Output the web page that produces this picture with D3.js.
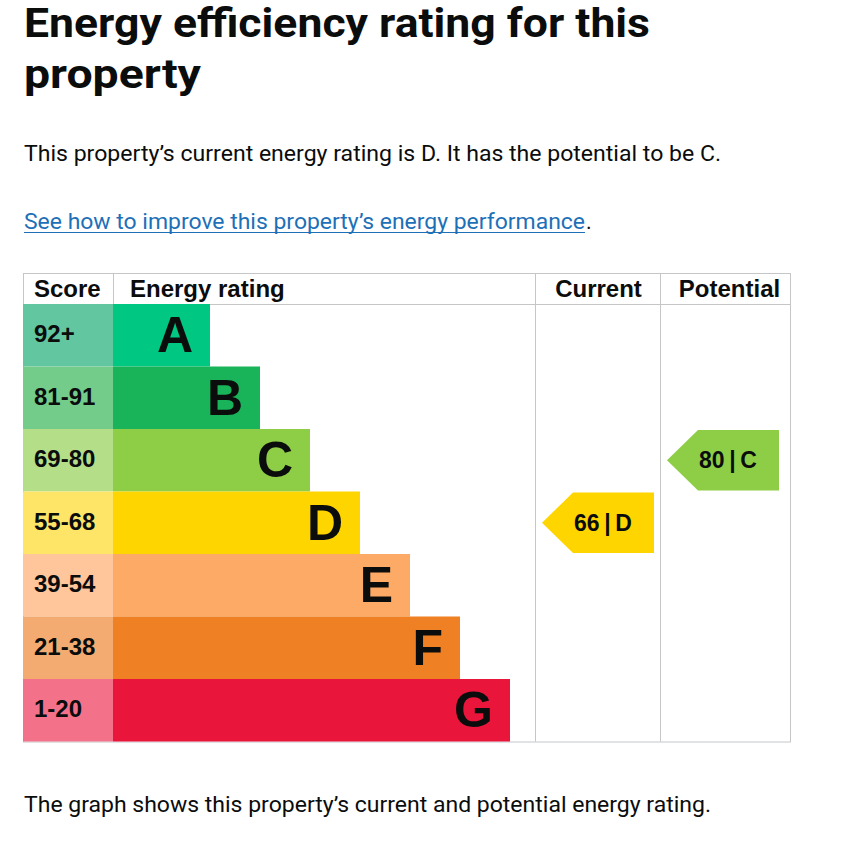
<!DOCTYPE html>
<html>
<head>
<meta charset="utf-8">
<script src="https://cdn.jsdelivr.net/npm/d3@7"></script>
<style>
  html, body { margin: 0; padding: 0; background: #fff; }
  svg { display: block; }
</style>
</head>
<body>
<svg id="chart" width="847" height="848"></svg>
<script>
// ---------- data ----------
const bands = ["A", "B", "C", "D", "E", "F", "G"];
const scoreRanges = ["92+", "81-91", "69-80", "55-68", "39-54", "21-38", "1-20"];
const bandColors = ["#00c781", "#19b459", "#8dce46", "#ffd500", "#fcaa65", "#ef8023", "#e9153b"];
const scoreColors = ["#62c6a0", "#74cc8b", "#b5de89", "#ffe567", "#fec69a", "#f4ab72", "#f3728a"];
const columns = ["Score", "Energy rating", "Current", "Potential"];
const ratings = [
  { column: "Current", score: 66, band: "D" },
  { column: "Potential", score: 80, band: "C" }
];
const titleLines = ["Energy efficiency rating for this", "property"];
const summaryText = "This property\u2019s current energy rating is D. It has the potential to be C.";
const linkText = "See how to improve this property\u2019s energy performance";
const footerText = "The graph shows this property\u2019s current and potential energy rating.";

// ---------- layout ----------
const svg = d3.select("#chart");
const bodyFont = "Roboto, 'Noto Sans', sans-serif";
const tableFont = "'Liberation Sans', Arial, sans-serif";

const tableLeft = 23, tableRight = 791, tableTop = 273, headerBottom = 304, tableBottom = 741.5;
const colEdges = [23, 113, 535, 660, 791];

const y = d3.scaleBand().domain(bands).range([headerBottom, tableBottom]).paddingInner(0);
// bar end position by band rank
const barEnd = d3.scaleLinear().domain([0, bands.length - 1]).range([210, 510]);
const colX = d3.scaleOrdinal().domain(columns).range(colEdges.slice(0, 4));
const colW = d3.scaleOrdinal().domain(columns).range(colEdges.slice(1).map((e, i) => e - colEdges[i]));

// ---------- heading texts ----------
const titleWidths = [626, 177];
svg.selectAll("text.title").data(titleLines).join("text")
  .attr("class", "title")
  .attr("x", 24).attr("y", (d, i) => 37 + i * 51)
  .attr("font-family", bodyFont).attr("font-weight", 700).attr("font-size", 41)
  .attr("fill", "#0b0c0c")
  .attr("textLength", (d, i) => titleWidths[i]).attr("lengthAdjust", "spacingAndGlyphs")
  .text(d => d);

svg.append("text")
  .attr("x", 24).attr("y", 161)
  .attr("font-family", bodyFont).attr("font-size", 21.5).attr("fill", "#0b0c0c")
  .attr("textLength", 697).attr("lengthAdjust", "spacingAndGlyphs")
  .text(summaryText);

svg.append("text")
  .attr("x", 24).attr("y", 229)
  .attr("font-family", bodyFont).attr("font-size", 21.5).attr("fill", "#1d70b8")
  .attr("textLength", 561).attr("lengthAdjust", "spacingAndGlyphs")
  .text(linkText);
svg.append("line")
  .attr("x1", 24).attr("x2", 585).attr("y1", 232.5).attr("y2", 232.5)
  .attr("stroke", "#1d70b8").attr("stroke-width", 1);
svg.append("text")
  .attr("x", 586).attr("y", 229)
  .attr("font-family", bodyFont).attr("font-size", 21.5).attr("fill", "#0b0c0c")
  .text(".");

svg.append("text")
  .attr("x", 24).attr("y", 812)
  .attr("font-family", bodyFont).attr("font-size", 21.5).attr("fill", "#0b0c0c")
  .attr("textLength", 687).attr("lengthAdjust", "spacingAndGlyphs")
  .text(footerText);

// ---------- table grid ----------
const grid = svg.append("g").attr("stroke", "#c4c6c8").attr("stroke-width", 1).attr("fill", "none");
grid.append("rect")
  .attr("x", tableLeft + 0.5).attr("y", tableTop + 0.5)
  .attr("width", tableRight - tableLeft - 1).attr("height", tableBottom - tableTop);
grid.append("line").attr("x1", tableLeft).attr("x2", tableRight).attr("y1", headerBottom + 0.5).attr("y2", headerBottom + 0.5);
grid.selectAll("line.col").data(colEdges.slice(2, 4)).join("line")
  .attr("class", "col")
  .attr("x1", d => d + 0.5).attr("x2", d => d + 0.5)
  .attr("y1", tableTop).attr("y2", tableBottom);
grid.append("line")
  .attr("x1", colEdges[1] + 0.5).attr("x2", colEdges[1] + 0.5)
  .attr("y1", tableTop).attr("y2", headerBottom);

// ---------- header labels ----------
const headerAnchor = { "Score": "start", "Energy rating": "start", "Current": "middle", "Potential": "middle" };
const headerOffset = { "Score": 11, "Energy rating": 17 };
svg.selectAll("text.head").data(columns).join("text")
  .attr("class", "head")
  .attr("x", d => headerAnchor[d] === "start" ? colX(d) + headerOffset[d] : colX(d) + colW(d) / 2 + (d === "Potential" ? 4 : 1))
  .attr("y", 297)
  .attr("text-anchor", d => headerAnchor[d])
  .attr("font-family", tableFont).attr("font-weight", 700).attr("font-size", 24)
  .attr("fill", "#0b0c0c")
  .text(d => d);

// ---------- rows ----------
const rows = svg.append("g").selectAll("g.row").data(bands).join("g").attr("class", "row");

rows.append("rect")
  .attr("x", colX("Score")).attr("y", d => y(d))
  .attr("width", colW("Score")).attr("height", y.bandwidth())
  .attr("fill", (d, i) => scoreColors[i]);

rows.append("rect")
  .attr("x", colX("Energy rating")).attr("y", d => y(d))
  .attr("width", (d, i) => barEnd(i) - colX("Energy rating")).attr("height", y.bandwidth())
  .attr("fill", (d, i) => bandColors[i]);

rows.append("text")
  .attr("x", colX("Score") + 11)
  .attr("y", d => y(d) + y.bandwidth() / 2 + 7)
  .attr("font-family", tableFont).attr("font-weight", 700).attr("font-size", 24)
  .attr("fill", "#0b0c0c")
  .text((d, i) => scoreRanges[i]);

rows.append("text")
  .attr("x", (d, i) => barEnd(i) - 17)
  .attr("y", d => y(d) + y.bandwidth() / 2 + 17)
  .attr("text-anchor", "end")
  .attr("font-family", tableFont).attr("font-weight", 700).attr("font-size", 50)
  .attr("fill", "#0b0c0c")
  .text(d => d);

// ---------- rating arrows ----------
const arrowW = 112, tipW = 31, inset = 1;
const arrows = svg.append("g").selectAll("g.arrow").data(ratings).join("g").attr("class", "arrow")
  .attr("transform", d => `translate(${colX(d.column) + 7},${y(d.band) + inset})`);

arrows.append("path")
  .attr("d", () => {
    const h = y.bandwidth() - 2 * inset;
    return `M0,${h / 2}L${tipW},0L${arrowW},0L${arrowW},${h}L${tipW},${h}Z`;
  })
  .attr("fill", d => bandColors[bands.indexOf(d.band)]);

arrows.append("text")
  .attr("x", 61).attr("y", (y.bandwidth() - 2 * inset) / 2 + 8)
  .attr("text-anchor", "middle")
  .attr("font-family", tableFont).attr("font-weight", 700).attr("font-size", 23)
  .attr("fill", "#0b0c0c")
  .text(d => `${d.score}\u2009|\u2009${d.band}`);
</script>
</body>
</html>
